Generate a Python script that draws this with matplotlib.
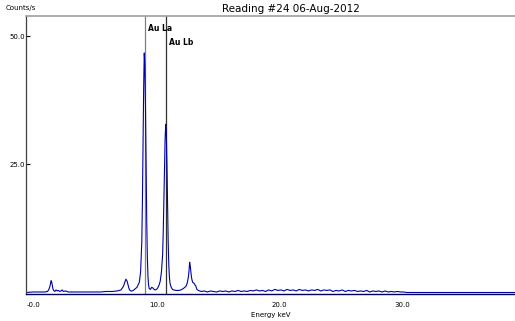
import numpy as np
import matplotlib.pyplot as plt

# spectrum (energy keV, counts/s)
peak_e = [0.0, 0.5, 1.0, 1.5, 1.7, 1.8, 1.9, 1.95, 2.0, 2.05, 2.1, 2.15, 2.2, 2.25, 2.3, 2.4, 2.5, 2.6,
          2.7, 2.8, 2.9, 3.0, 3.2, 3.4, 3.6, 4.0, 4.5, 5.0, 5.5, 6.0, 6.5, 7.0, 7.4, 7.7, 7.9, 8.0,
          8.1, 8.2, 8.3, 8.35, 8.4, 8.45, 8.5, 8.6, 8.7, 8.8, 9.0, 9.2, 9.3, 9.4, 9.45, 9.5, 9.55,
          9.6, 9.65, 9.7, 9.75, 9.8, 9.85, 9.9, 9.95, 10.0, 10.1, 10.2, 10.3, 10.4, 10.5, 10.6,
          10.7, 10.8, 10.9, 11.0, 11.1, 11.15, 11.2, 11.25, 11.3, 11.35, 11.4, 11.45, 11.5, 11.55,
          11.6, 11.65, 11.7, 11.8, 11.9, 12.0, 12.2, 12.4, 12.6, 12.8, 13.0, 13.1, 13.2, 13.25,
          13.3, 13.35, 13.4, 13.45, 13.5, 13.55, 13.6, 13.65, 13.7, 13.75, 13.8, 13.85, 13.9]
peak_c = [0.0, 0.1, 0.1, 0.1, 0.2, 0.5, 1.2, 1.8, 2.3, 2.0, 1.3, 0.7, 0.4, 0.3, 0.2, 0.5, 0.3, 0.4,
          0.2, 0.3, 0.5, 0.2, 0.3, 0.1, 0.1, 0.1, 0.1, 0.1, 0.1, 0.1, 0.2, 0.2, 0.3, 0.5, 1.2, 1.9,
          2.6, 2.2, 1.3, 0.8, 0.5, 0.4, 0.3, 0.3, 0.4, 0.6, 1.0, 2.0, 4.0, 10.0, 18.0, 30.0, 40.0,
          46.7, 44.0, 36.0, 24.0, 14.0, 7.0, 3.2, 1.5, 0.8, 0.6, 1.0, 0.9, 0.6, 0.5, 0.6,
          0.9, 1.4, 2.2, 4.0, 7.5, 12.0, 18.0, 25.0, 30.0, 32.8, 31.0, 25.0, 17.0, 10.0,
          5.5, 3.0, 1.8, 1.0, 0.6, 0.5, 0.4, 0.4, 0.5, 0.8, 1.2, 1.8, 3.0, 4.2,
          5.9, 5.2, 4.0, 3.0, 2.4, 2.0, 1.9, 1.8, 1.7, 1.4, 1.3, 0.9, 0.6]

# background tail, 14 - 31 keV in 0.25 keV steps, then flat
tail_e = [14.0 + 0.25 * i for i in range(69)] + [32.0, 34.0, 36.0, 38.0, 40.0]
tail_c = [0.4, 0.2, 0.3, 0.1, 0.3, 0.2, 0.1, 0.3, 0.2, 0.3, 0.1, 0.3, 0.2, 0.4, 0.2, 0.3,
          0.2, 0.4, 0.3, 0.5, 0.3, 0.4, 0.2, 0.5, 0.3, 0.6, 0.4, 0.5, 0.3, 0.6, 0.4, 0.5,
          0.3, 0.6, 0.4, 0.5, 0.3, 0.5, 0.4, 0.6, 0.3, 0.5, 0.4, 0.5, 0.2, 0.4, 0.3, 0.5,
          0.2, 0.4, 0.3, 0.4, 0.2, 0.3, 0.2, 0.4, 0.1, 0.3, 0.2, 0.3, 0.1, 0.3, 0.1, 0.2,
          0.1, 0.2, 0.1, 0.1, 0.0, 0.0, 0.0, 0.0, 0.0, 0.0]

energy = peak_e + tail_e
counts = peak_c + tail_c

lines = ['Au La', 'Au Lb']
line_e = [9.63, 11.36]
line_lbl_y = [51.5, 48.8]
line_col = ['#808080', '#303030']

title = 'Reading #24 06-Aug-2012'

fig = plt.figure(figsize=(5.15, 3.21), dpi=100)
ax = fig.add_axes([0.0505, 0.084, 0.9495, 0.866])

for name, e, yl, c in zip(lines, line_e, line_lbl_y, line_col):
    ax.axvline(e, color=c, lw=0.9, zorder=1)
    ax.text(e + 0.25, yl, name, fontsize=5.5, fontweight='bold', va='center', ha='left')

ax.plot(energy, counts, color='#0000a8', lw=0.8, zorder=2)

ax.set_xlim(-0.05, 39.85)
ax.set_ylim(-0.3, 53.9)
ax.set_xticks([0, 10, 20, 30])
ax.set_xticklabels(['-0.0', '10.0', '20.0', '30.0'], ha='left')
ax.set_yticks([25, 50])
ax.set_yticklabels(['25.0', '50.0'])
ax.tick_params(axis='y', direction='in', length=3, width=0.8, labelsize=5, pad=1)
ax.tick_params(axis='x', length=0, labelsize=5, pad=5.5)

ax.spines['right'].set_visible(False)
ax.spines['top'].set_color('#a0a0a0')
ax.spines['top'].set_linewidth(1.2)
ax.spines['left'].set_color('#404040')
ax.spines['left'].set_linewidth(0.9)
ax.spines['bottom'].set_color('#00005a')
ax.spines['bottom'].set_linewidth(1.0)

fig.text(0.564, 0.972, title, fontsize=7.5, ha='center', va='center')
fig.text(0.01, 0.975, 'Counts/s', fontsize=5, ha='left', va='center')
fig.text(0.526, 0.02, 'Energy keV', fontsize=5, ha='center', va='center')

fig.savefig('out.png', dpi=100)
